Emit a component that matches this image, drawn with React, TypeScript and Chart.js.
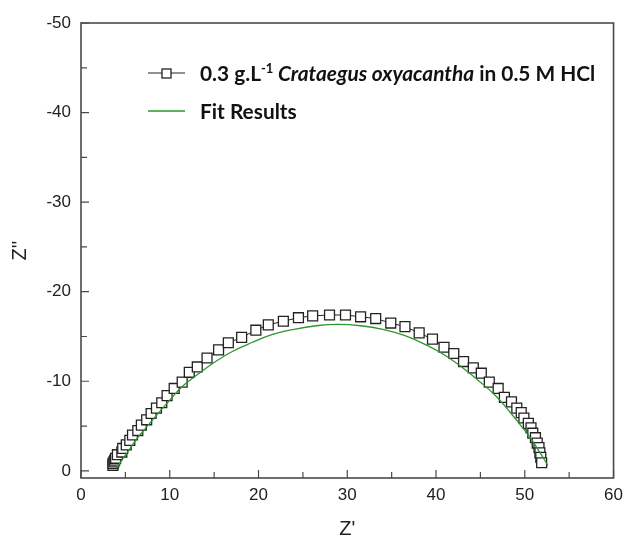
import React, { useEffect, useRef } from 'react';
import { Chart, registerables } from 'chart.js';

Chart.register(...registerables);

// Measured data: Z' (ohm cm2) and Z'' (negative imaginary part as plotted)
const zReal = [3.6, 3.6, 3.7, 3.8, 3.9, 4.1, 4.6, 4.7, 5.1, 5.5, 5.8, 6.4, 6.8, 7.4, 7.9, 8.5, 9.1, 9.7, 10.5, 11.4, 12.2, 13.1, 14.2, 15.5, 16.6, 18.1, 19.7, 21.1, 22.8, 24.5, 26.1, 28.0, 29.8, 31.5, 33.2, 34.9, 36.5, 38.1, 39.6, 40.9, 42.0, 43.1, 44.2, 45.1, 46.0, 47.0, 47.7, 48.5, 49.1, 49.6, 49.9, 50.4, 50.7, 50.9, 51.2, 51.4, 51.6, 51.7, 51.8, 51.9];
const zImag = [-0.6, -0.8, -1.0, -1.2, -1.4, -1.8, -2.1, -2.5, -2.9, -3.4, -4.0, -4.5, -5.1, -5.7, -6.4, -7.0, -7.6, -8.4, -9.2, -9.9, -11.0, -11.6, -12.6, -13.5, -14.3, -14.9, -15.7, -16.3, -16.7, -17.1, -17.3, -17.4, -17.4, -17.2, -17.0, -16.5, -16.1, -15.4, -14.7, -13.8, -13.1, -12.2, -11.5, -10.9, -9.9, -9.2, -8.2, -7.7, -7.0, -6.5, -5.9, -5.3, -4.8, -4.2, -3.7, -3.1, -2.6, -2.0, -1.5, -0.9];

// Fit results
const fitReal = [4.0, 4.6, 5.4, 6.3, 7.4, 8.6, 10.0, 11.5, 13.2, 15.0, 17.0, 19.2, 21.5, 24.0, 26.5, 29.0, 31.5, 34.0, 36.5, 39.0, 41.0, 43.0, 45.0, 46.8, 48.3, 49.6, 50.7, 51.6, 52.3, 52.6];
const fitImag = [-0.3, -1.2, -2.3, -3.6, -4.9, -6.3, -7.9, -9.5, -10.8, -12.1, -13.3, -14.3, -15.2, -15.8, -16.2, -16.35, -16.2, -15.8, -15.1, -14.0, -12.9, -11.5, -9.9, -8.3, -6.6, -5.0, -3.6, -2.2, -1.1, -0.6];

const xMajorTicks = [0, 10, 20, 30, 40, 50, 60];
const xMinorTicks = [5, 15, 25, 35, 45, 55];
const yMajorTicks = [-50, -40, -30, -20, -10, 0];
const yMinorTicks = [-45, -35, -25, -15, -5];

const xTitle = "Z'";
const yTitle = "Z''";
const legendParts = [
  { text: '0.3 g.L', italic: false, sup: false },
  { text: '-1', italic: false, sup: true },
  { text: ' Crataegus oxyacantha', italic: true, sup: false },
  { text: ' in 0.5 M HCl', italic: false, sup: false },
];
const fitLabel = 'Fit Results';

const GREEN = 'rgb(46,150,46)';
const AXIS = '#4a4a4a';
const TEXT = '#222';
const SANS = '"Liberation Sans", Arial, sans-serif';
const LEG = 'Lato, "Open Sans", sans-serif';

const framePlugin = {
  id: 'frameTicks',
  afterDraw(chart: any) {
    const { ctx, chartArea } = chart;
    const { left, right, top, bottom } = chartArea;
    const xs = chart.scales.x;
    const ys = chart.scales.y;
    ctx.save();
    ctx.strokeStyle = AXIS;
    ctx.lineWidth = 1.6;
    ctx.strokeRect(left, top, right - left, bottom - top);
    ctx.lineWidth = 1.2;
    ctx.beginPath();
    xMajorTicks.forEach((v) => {
      const p = xs.getPixelForValue(v);
      ctx.moveTo(p, bottom);
      ctx.lineTo(p, bottom - 8);
    });
    xMinorTicks.forEach((v) => {
      const p = xs.getPixelForValue(v);
      ctx.moveTo(p, bottom);
      ctx.lineTo(p, bottom - 6);
    });
    yMajorTicks.forEach((v) => {
      const p = ys.getPixelForValue(v);
      ctx.moveTo(left, p);
      ctx.lineTo(left + 8, p);
    });
    yMinorTicks.forEach((v) => {
      const p = ys.getPixelForValue(v);
      ctx.moveTo(left, p);
      ctx.lineTo(left + 6, p);
    });
    ctx.stroke();

    // Legend
    const symL = 148;
    const symR = 185;
    const textX = 200;
    const row1 = 73;
    const row2 = 111;
    const targetW = 395;
    const base = 20;
    const fontFor = (p: any, size: number) =>
      `${p.italic ? 'italic ' : ''}bold ${p.sup ? Math.round(size * 0.62) : size}px ${LEG}`;
    let w = 0;
    legendParts.forEach((p) => {
      ctx.font = fontFor(p, base);
      w += ctx.measureText(p.text).width;
    });
    const size = Math.min(22, (base * targetW) / w);

    ctx.strokeStyle = '#222';
    ctx.lineWidth = 1;
    ctx.beginPath();
    ctx.moveTo(symL, row1);
    ctx.lineTo(symR, row1);
    ctx.stroke();
    ctx.fillStyle = '#fff';
    ctx.fillRect(162, row1 - 4, 9, 9);
    ctx.lineWidth = 1.3;
    ctx.strokeRect(162, row1 - 4, 9, 9);

    ctx.fillStyle = '#111';
    ctx.textBaseline = 'alphabetic';
    ctx.textAlign = 'left';
    let x = textX;
    const base1 = row1 + size * 0.36;
    legendParts.forEach((p) => {
      ctx.font = fontFor(p, size);
      ctx.fillText(p.text, x, p.sup ? base1 - size * 0.38 : base1);
      x += ctx.measureText(p.text).width;
    });

    ctx.strokeStyle = GREEN;
    ctx.lineWidth = 1.3;
    ctx.beginPath();
    ctx.moveTo(symL, row2);
    ctx.lineTo(symR, row2);
    ctx.stroke();
    ctx.font = `bold ${size}px ${LEG}`;
    ctx.fillText(fitLabel, textX, row2 + size * 0.36);
    ctx.restore();
  },
};

export default function App() {
  const ref = useRef<HTMLCanvasElement | null>(null);
  useEffect(() => {
    if (!ref.current) return;
    const chart = new Chart(ref.current, {
      type: 'scatter',
      data: {
        datasets: [
          {
            label: fitLabel,
            data: fitReal.map((x, i) => ({ x, y: fitImag[i] })),
            showLine: true,
            borderColor: GREEN,
            borderWidth: 1.3,
            pointRadius: 0,
            tension: 0.4,
            order: 0,
          },
          {
            label: 'data',
            data: zReal.map((x, i) => ({ x, y: zImag[i] })),
            showLine: true,
            borderColor: '#222',
            borderWidth: 1,
            pointStyle: 'rect',
            pointRadius: 7,
            pointBorderWidth: 1.3,
            pointBorderColor: '#222',
            pointBackgroundColor: '#fff',
            order: 1,
          },
        ],
      },
      options: {
        responsive: false,
        animation: false,
        layout: { padding: { top: 23, right: 12, left: 0, bottom: 0 } },
        plugins: { legend: { display: false }, tooltip: { enabled: false } },
        scales: {
          x: {
            type: 'linear',
            min: 0,
            max: 60,
            afterBuildTicks: (s: any) => {
              s.ticks = xMajorTicks.map((v) => ({ value: v }));
            },
            afterFit: (s: any) => {
              s.height = 63;
            },
            grid: { display: false, drawTicks: false },
            border: { display: false },
            ticks: {
              font: { family: SANS, size: 17 },
              color: TEXT,
              padding: 7,
              maxRotation: 0,
              autoSkip: false,
            },
            title: {
              display: true,
              text: xTitle,
              font: { family: SANS, size: 20 },
              color: TEXT,
              padding: { top: 0, bottom: 0 },
            },
          },
          y: {
            type: 'linear',
            min: -50,
            max: 0.8,
            reverse: true,
            afterBuildTicks: (s: any) => {
              s.ticks = yMajorTicks.map((v) => ({ value: v }));
            },
            afterFit: (s: any) => {
              s.width = 81;
            },
            grid: { display: false, drawTicks: false },
            border: { display: false },
            ticks: {
              font: { family: SANS, size: 17 },
              color: TEXT,
              padding: 10,
              autoSkip: false,
            },
            title: {
              display: true,
              text: yTitle,
              font: { family: SANS, size: 20 },
              color: TEXT,
              padding: { top: 8, bottom: 0 },
            },
          },
        },
      },
      plugins: [framePlugin],
    } as any);
    return () => chart.destroy();
  }, []);
  return (
    <div style={{ position: 'fixed', left: 0, top: 0, width: 630, height: 541, background: '#fff' }}>
      <canvas ref={ref} width={630} height={541} />
    </div>
  );
}
